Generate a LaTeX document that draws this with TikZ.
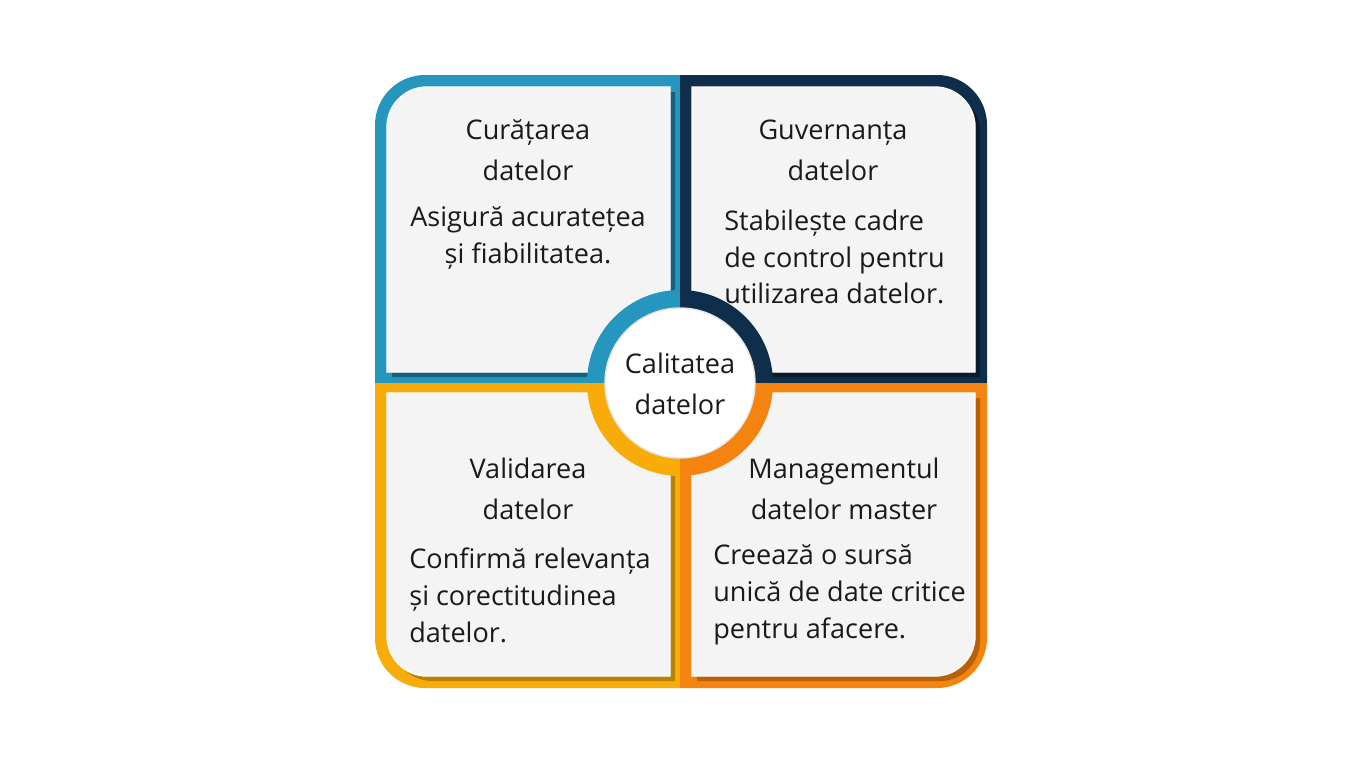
\documentclass[tikz,border=0pt]{standalone}
\usepackage{fontspec}
\setmainfont{Open Sans}

\definecolor{cTeal}{HTML}{2596BE}
\definecolor{cNavy}{HTML}{0F2E4B}
\definecolor{cYellow}{HTML}{F7AC0A}
\definecolor{cOrange}{HTML}{F4830F}
\definecolor{cardgray}{HTML}{F4F4F4}
\definecolor{inkblack}{HTML}{1A1A1A}

\tikzset{
  card/.style={fill=cardgray, draw=white, line width=0.8pt,
    preaction={fill=#1, transform canvas={shift={(5,5)}}}},
  title/.style={align=center, text=inkblack, inner sep=0pt,
    font=\fontsize{15.4}{23.3}\selectfont},
  body/.style={text=inkblack, inner sep=0pt,
    font=\fontsize{15.4}{21}\selectfont},
}

\begin{document}
\begin{tikzpicture}[x=0.02cm, y=-0.02cm]
        \useasboundingbox[fill=white] (0,0) rectangle (1365,768);
        \coordinate (O) at (680,383);

        % frame quarters
        \foreach \qx/\qy/\qc in {375/75/cTeal, 987/75/cNavy, 375/688/cYellow, 987/688/cOrange} {
            \begin{scope}
                \clip (O) rectangle (\qx,\qy);
                \fill[\qc, rounded corners=1cm] (375,75) rectangle (987,688);
            \end{scope}
        }

        % cards
        \path[card=cTeal!65!black] (387,372) -- (387,127) .. controls (387,105) and (405,87) .. (427,87)
                              -- (670,87) -- (670,372) -- cycle;
        \path[card=cNavy!60!black] (692,372) -- (692,87) -- (935,87) .. controls (957,87) and (975,105) .. (975,127)
                              -- (975,372) -- cycle;
        \path[card=cYellow!75!black] (387,393) -- (670,393) -- (670,676) -- (427,676)
                              .. controls (405,676) and (387,658) .. (387,636) -- cycle;
        \path[card=cOrange!75!black] (692,393) -- (975,393) -- (975,636) .. controls (975,658) and (957,676) .. (935,676)
                              -- (692,676) -- cycle;

        % centre ring
        \foreach \qx/\qy/\qc in {580/283/cTeal, 780/283/cNavy, 580/483/cYellow, 780/483/cOrange} {
            \begin{scope}
                \clip (O) rectangle (\qx,\qy);
                \fill[\qc] (O) circle[radius=93];
            \end{scope}
        }
        \draw[fill=white, draw=gray!20, line width=0.8pt] (O) circle[radius=75];

        \node[title] (c) at (680,384) {Calitatea\\datelor};

        \node[title] (t1) at (528,150) {Curățarea\\datelor};
        \node[body, align=center] (d1) at (528,238) {Asigură acuratețea\\și fiabilitatea.};

        \node[title] (t2) at (833,150) {Guvernanța\\datelor};
        \node[body, align=left, anchor=west] (d2) at (724,257) {Stabilește cadre\\de control pentru\\utilizarea datelor.};

        \node[title] (t3) at (528,489) {Validarea\\datelor};
        \node[body, align=left, anchor=west] (d3) at (409,595) {Confirmă relevanța\\și corectitudinea\\datelor.};

        \node[title] (t4) at (844,489) {Managementul\\datelor master};
        \node[body, align=left, anchor=west] (d4) at (713,595) {Creează o sursă\\unică de date critice\\pentru afacere.};
    \end{tikzpicture}
\end{document}
